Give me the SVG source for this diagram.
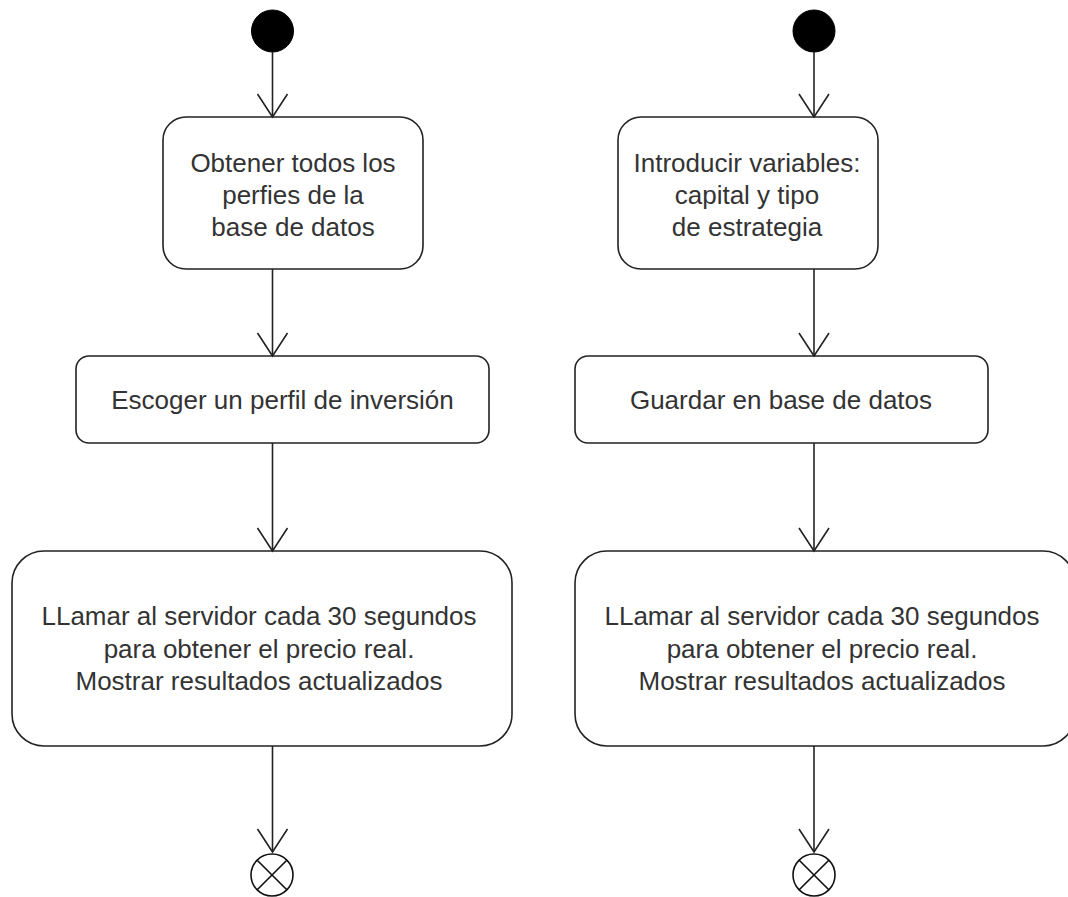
<svg xmlns="http://www.w3.org/2000/svg" width="1068" height="897" viewBox="0 0 1068 897">
  <style>
    .act { fill: #ffffff; stroke: #222222; stroke-width: 1.6; }
    .lbl { font-family: "Liberation Sans", Arial, sans-serif; font-size: 26px; fill: #333333; text-anchor: middle; }
    .flow { stroke: #222222; stroke-width: 1.6; fill: none; marker-end: url(#open); }
    .start { fill: #000000; stroke: #000000; stroke-width: 1; }
    .final { fill: #ffffff; stroke: #111111; stroke-width: 1.6; }
  </style>
  <defs>
    <marker id="open" markerUnits="userSpaceOnUse" markerWidth="40" markerHeight="40" refX="0" refY="0" orient="auto" overflow="visible">
      <path d="M-23,-15 L0,0 L-23,15" fill="none" stroke="#222222" stroke-width="1.6"/>
    </marker>
  </defs>
  <rect width="1068" height="897" fill="#ffffff"/>

  <!-- left flow -->
  <g id="start-left">
    <circle class="start" cx="272.5" cy="31" r="21"/>
  </g>
  <g id="obtener-perfiles">
    <rect class="act" x="163" y="117" width="260" height="152" rx="23" ry="23"/>
    <text class="lbl" x="293" y="172">Obtener todos los</text>
    <text class="lbl" x="293" y="204">perfies de la</text>
    <text class="lbl" x="293" y="236">base de datos</text>
  </g>
  <g id="escoger-perfil">
    <rect class="act" x="76" y="356" width="413" height="87" rx="13" ry="13"/>
    <text class="lbl" x="282.5" y="409">Escoger un perfil de inversión</text>
  </g>
  <g id="llamar-servidor-left">
    <rect class="act" x="12" y="551" width="500" height="195" rx="32" ry="32"/>
    <text class="lbl" x="259" y="625">LLamar al servidor cada 30 segundos</text>
    <text class="lbl" x="259" y="657.5">para obtener el precio real.</text>
    <text class="lbl" x="259" y="690">Mostrar resultados actualizados</text>
  </g>
  <g id="end-left">
    <circle class="final" cx="272" cy="875" r="21"/>
    <path d="M257.2,860.2 L286.8,889.8 M286.8,860.2 L257.2,889.8" stroke="#111111" stroke-width="1.6"/>
  </g>

  <!-- right flow -->
  <g id="start-right">
    <circle class="start" cx="814" cy="31" r="21"/>
  </g>
  <g id="introducir-variables">
    <rect class="act" x="618" y="117" width="260" height="152" rx="23" ry="23"/>
    <text class="lbl" x="747" y="172">Introducir variables:</text>
    <text class="lbl" x="747" y="204">capital y tipo</text>
    <text class="lbl" x="747" y="236">de estrategia</text>
  </g>
  <g id="guardar-bd">
    <rect class="act" x="575" y="356" width="413" height="87" rx="13" ry="13"/>
    <text class="lbl" x="781" y="409">Guardar en base de datos</text>
  </g>
  <g id="llamar-servidor-right">
    <rect class="act" x="575" y="551" width="500" height="195" rx="32" ry="32"/>
    <text class="lbl" x="822" y="625">LLamar al servidor cada 30 segundos</text>
    <text class="lbl" x="822" y="657.5">para obtener el precio real.</text>
    <text class="lbl" x="822" y="690">Mostrar resultados actualizados</text>
  </g>
  <g id="end-right">
    <circle class="final" cx="814" cy="875" r="21"/>
    <path d="M799.2,860.2 L828.8,889.8 M828.8,860.2 L799.2,889.8" stroke="#111111" stroke-width="1.6"/>
  </g>

  <!-- control flows -->
  <g id="connectors">
    <line class="flow" x1="272.5" y1="52" x2="272.5" y2="117"/>
    <line class="flow" x1="272.5" y1="269" x2="272.5" y2="356"/>
    <line class="flow" x1="272.5" y1="443" x2="272.5" y2="551"/>
    <line class="flow" x1="272.5" y1="746" x2="272.5" y2="852"/>
    <line class="flow" x1="814" y1="52" x2="814" y2="117"/>
    <line class="flow" x1="814" y1="269" x2="814" y2="356"/>
    <line class="flow" x1="814" y1="443" x2="814" y2="551"/>
    <line class="flow" x1="814" y1="746" x2="814" y2="852"/>
  </g>
</svg>
